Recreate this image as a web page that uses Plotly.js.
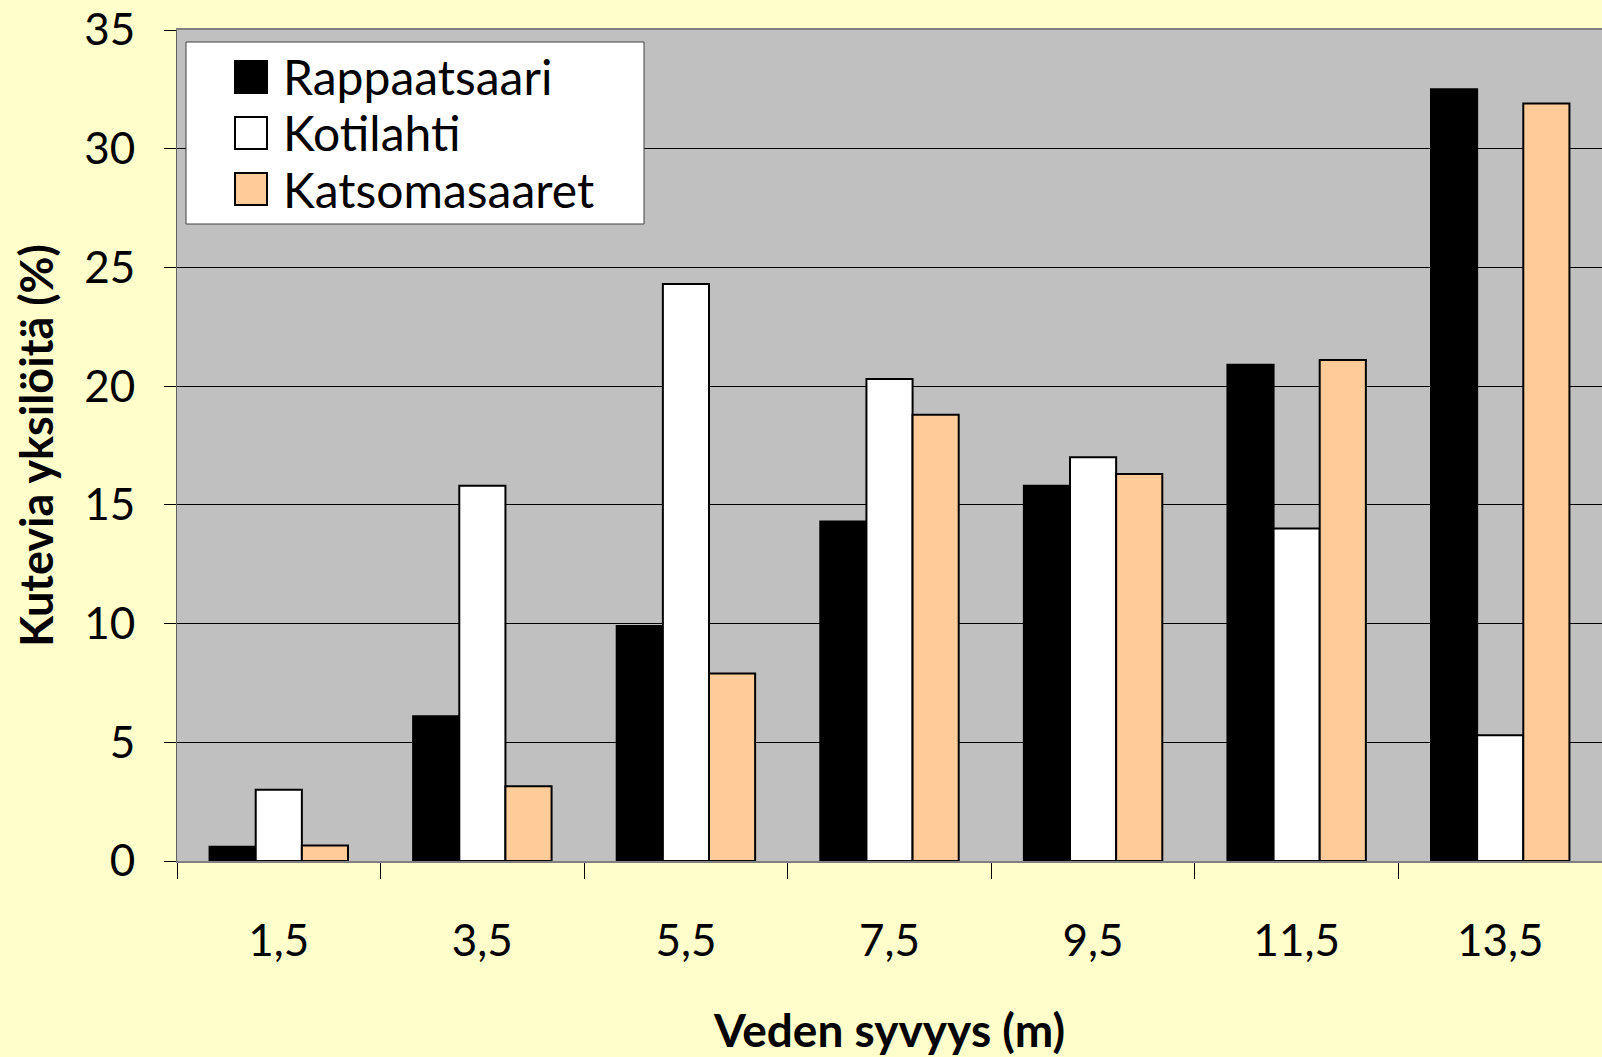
<!DOCTYPE html>
<html>
<head>
<meta charset="utf-8">
<script src="https://cdn.plot.ly/plotly-3.0.1.min.js"></script>
<style>
  body { margin: 0; background: #FFFFCC; }
  #chart { width: 1602px; height: 1057px; }
</style>
</head>
<body>
<div id="chart"></div>
<script>
// depth classes (m)
const depths = ['1,5', '3,5', '5,5', '7,5', '9,5', '11,5', '13,5'];

// share of spawning fish (%) per site
const rappaatsaari = [0.6, 6.1, 9.9, 14.3, 15.8, 20.9, 32.5];
const kotilahti = [3.0, 15.8, 24.3, 20.3, 17.0, 14.0, 5.3];
const katsomasaaret = [0.65, 3.15, 7.9, 18.8, 16.3, 21.1, 31.9];

const names = ['Rappaatsaari', 'Kotilahti', 'Katsomasaaret'];
const colors = ['#000000', '#FFFFFF', '#FFCC99'];
const series = [rappaatsaari, kotilahti, katsomasaaret];

const font = 'Lato, "Open Sans", sans-serif';

// plot area in pixels, used to place the hand-made legend
const W = 1602, H = 1057;
const mar = { l: 177, r: 0, t: 30, b: 196 };
const pw = W - mar.l - mar.r;
const ph = H - mar.t - mar.b;
function px(x) { return (x - mar.l) / pw; }
function py(y) { return (H - mar.b - y) / ph; }

let data = [];
series.forEach(function (vals, i) {
  data.push({
    x: depths,
    y: vals,
    type: 'bar',
    name: names[i],
    showlegend: false,
    marker: { color: colors[i], line: { color: '#000000', width: 2 } }
  });
});

// legend box with large swatches (plotly caps its own legend icons)
let shapes = [{
  type: 'rect', xref: 'paper', yref: 'paper',
  x0: px(186), x1: px(644), y0: py(42), y1: py(224),
  fillcolor: '#FFFFFF', line: { color: '#404040', width: 1 }
}];
let annotations = [];
const rowY = [77, 133, 189];
names.forEach(function (n, i) {
  shapes.push({
    type: 'rect', xref: 'paper', yref: 'paper',
    x0: px(235), x1: px(267), y0: py(rowY[i] - 16), y1: py(rowY[i] + 16),
    fillcolor: colors[i], line: { color: '#000000', width: 2 }
  });
  annotations.push({
    xref: 'paper', yref: 'paper',
    x: px(281), y: py(rowY[i]),
    xanchor: 'left', yanchor: 'middle',
    text: n, showarrow: false,
    font: { size: 48 }
  });
});

const layout = {
  width: W,
  height: H,
  paper_bgcolor: '#FFFFCC',
  plot_bgcolor: '#C0C0C0',
  margin: mar,
  barmode: 'group',
  bargap: 0.32,
  bargroupgap: 0,
  showlegend: false,
  font: { family: font, color: '#000000', size: 44 },
  shapes: shapes,
  annotations: annotations,
  xaxis: {
    type: 'category',
    tickson: 'boundaries',
    ticks: 'outside',
    ticklen: 16,
    tickcolor: '#000000',
    showline: true,
    linecolor: '#808080',
    linewidth: 2,
    mirror: true,
    showgrid: false,
    ticklabelstandoff: 40,
    tickfont: { size: 44 },
    title: {
      text: '<b>Veden syvyys (m)</b>',
      font: { size: 46 },
      standoff: 58
    }
  },
  yaxis: {
    range: [0, 35],
    tickvals: [0, 5, 10, 15, 20, 25, 30, 35],
    ticks: 'outside',
    ticklen: 12,
    tickcolor: '#000000',
    showline: true,
    linecolor: '#606060',
    linewidth: 1,
    showgrid: true,
    gridcolor: '#000000',
    gridwidth: 1,
    zeroline: false,
    ticklabeloverflow: 'allow',
    ticklabelstandoff: 20,
    tickfont: { size: 44 },
    title: {
      text: '<b>Kutevia yksilöitä (%)</b>',
      font: { size: 45 },
      standoff: 16
    }
  }
};

Plotly.newPlot('chart', data, layout, { displayModeBar: false });
</script>
</body>
</html>
